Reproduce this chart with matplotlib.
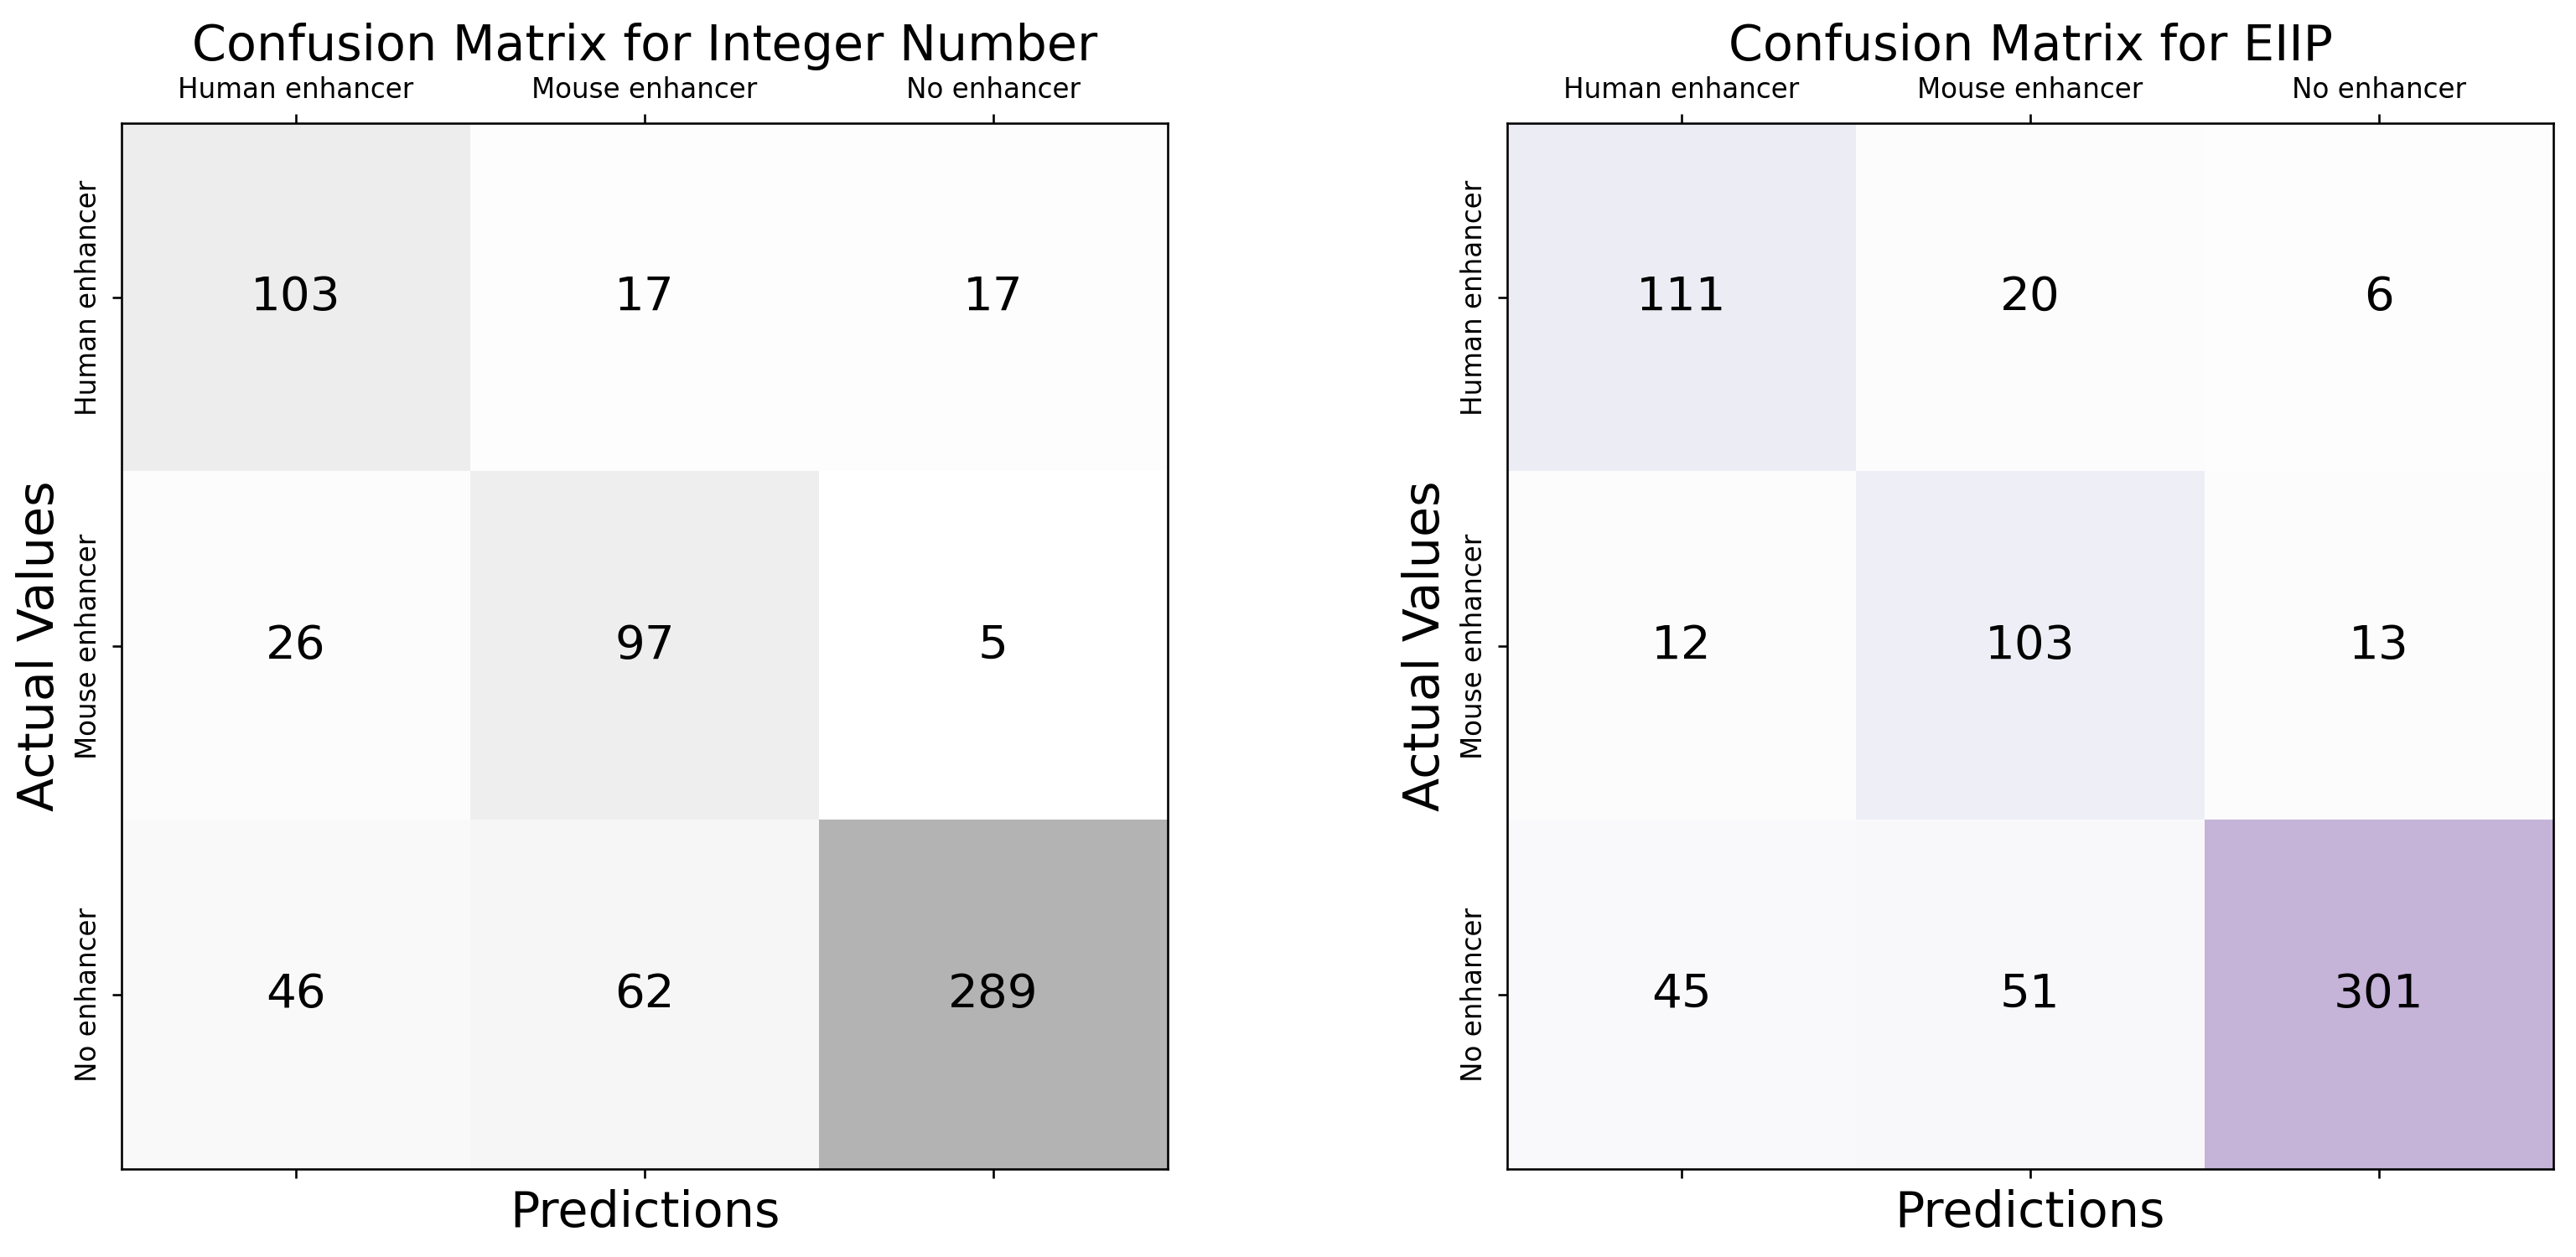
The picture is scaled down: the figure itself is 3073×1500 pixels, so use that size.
import matplotlib
matplotlib.use("Agg")
import matplotlib.pyplot as plt
import numpy as np

class_labels = ['Human enhancer', 'Mouse enhancer', 'No enhancer']
cm_integer = [[103, 17, 17],
              [26, 97, 5],
              [46, 62, 289]]
cm_eiip = [[111, 20, 6],
           [12, 103, 13],
           [45, 51, 301]]
titles = ['Confusion Matrix for Integer Number', 'Confusion Matrix for EIIP']
cmaps = ['Greys', 'Purples']

W, H = 3073, 1500
dpi = 235
fig = plt.figure(figsize=(W / dpi, H / dpi), dpi=dpi)

lefts = [145, 1798]
size = 1248
top = 147
for k, (cm, title, cmap) in enumerate(zip([cm_integer, cm_eiip], titles, cmaps)):
    ax = fig.add_axes([lefts[k] / W, (H - top - size) / H, size / W, size / H])
    arr = np.array(cm)
    ax.matshow(arr, cmap=cmap, alpha=0.3, aspect='auto')
    for i in range(arr.shape[0]):
        for j in range(arr.shape[1]):
            ax.text(j, i, str(arr[i, j]), va='center', ha='center', size='xx-large')
    ax.set_xticks(range(len(class_labels)))
    ax.set_yticks(range(len(class_labels)))
    ax.set_xticklabels(class_labels, fontsize=10)
    ax.set_yticklabels(class_labels, fontsize=10, rotation=90, va='center')
    ax.set_xlabel('Predictions', fontsize=18)
    ax.set_ylabel('Actual Values', fontsize=18)
    ax.set_title(titles[k], fontsize=18)

fig.savefig('out.png', dpi=dpi)
